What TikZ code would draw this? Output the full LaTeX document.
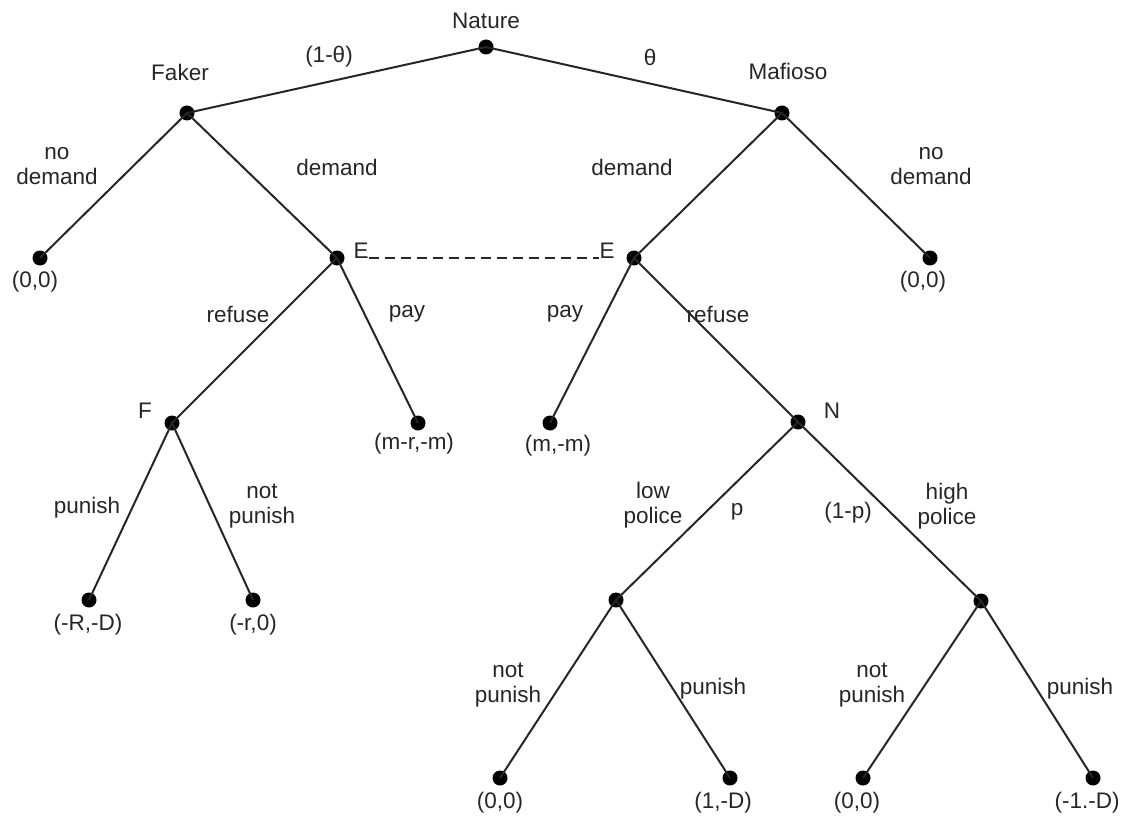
\documentclass[tikz,border=0pt]{standalone}
\usepackage{fontspec}
\setmainfont{Liberation Sans}
\begin{document}
\begin{tikzpicture}[x=1pt,y=-1pt,
  dot/.style={circle,fill=black,inner sep=0pt,minimum size=15pt},
  lbl/.style={font=\fontsize{22.5}{25}\selectfont,align=center,inner sep=0pt,text=black!85},
  edge/.style={line width=2pt,draw=black!85},
  infoset/.style={line width=1.7pt,draw=black!85,dash pattern=on 10pt off 6pt}]
\useasboundingbox (0,0) rectangle (1126,821);
% decision nodes
\node[dot] (nat) at (486,47) {};
\node[dot] (fak) at (187,113) {};
\node[dot] (maf) at (782,113) {};
\node[dot] (l1) at (40,258) {};
\node[dot] (e1) at (337,258) {};
\node[dot] (e2) at (634,258) {};
\node[dot] (l2) at (930,258) {};
\node[dot] (f) at (172,423) {};
\node[dot] (l3) at (418,423) {};
\node[dot] (l4) at (550,423) {};
\node[dot] (n) at (798,422) {};
\node[dot] (l5) at (89,600) {};
\node[dot] (l6) at (253,600) {};
\node[dot] (lp) at (616,600) {};
\node[dot] (hp) at (981,601) {};
\node[dot] (l7) at (500,778) {};
\node[dot] (l8) at (730,778) {};
\node[dot] (l9) at (863,778) {};
\node[dot] (l10) at (1093,778) {};
% edges
\draw[edge] (fak.center) -- (nat.center) -- (maf.center);
\draw[edge] (l1.center) -- (fak.center) -- (e1.center);
\draw[edge] (e2.center) -- (maf.center) -- (l2.center);
\draw[edge] (f.center) -- (e1.center) -- (l3.center);
\draw[edge] (l4.center) -- (e2.center) -- (n.center);
\draw[edge] (l5.center) -- (f.center) -- (l6.center);
\draw[edge] (lp.center) -- (n.center) -- (hp.center);
\draw[edge] (l7.center) -- (lp.center) -- (l8.center);
\draw[edge] (l9.center) -- (hp.center) -- (l10.center);
% player labels
\node[lbl] (tnat) at (486,21) {Nature};
\node[lbl] (tfak) at (180,72) {Faker};
\node[lbl] (tmaf) at (788,71) {Mafioso};
\node[lbl] (te1) at (361,251) {E};
\node[lbl] (te2) at (607,251) {E};
\node[lbl] (tf) at (145,411) {F};
\node[lbl] (tn) at (832,411) {N};
% information set
\draw[infoset] (te1.east |- e1) -- (te2.west |- e2);
% action labels
\node[lbl] (a1) at (329,57) {(1-θ)};
\node[lbl] (a2) at (650,57) {θ};
\node[lbl] (a3) at (57,166) {no\\demand};
\node[lbl] (a4) at (337,167) {demand};
\node[lbl] (a5) at (632,167) {demand};
\node[lbl] (a6) at (931,166) {no\\demand};
\node[lbl] (a7) at (238,314) {refuse};
\node[lbl] (a8) at (407,314) {pay};
\node[lbl] (a9) at (565,314) {pay};
\node[lbl] (a10) at (718,314) {refuse};
\node[lbl] (a11) at (87,508) {punish};
\node[lbl] (a12) at (262,506) {not\\punish};
\node[lbl] (a13) at (653,505) {low\\police};
\node[lbl] (a14) at (737,512) {p};
\node[lbl] (a15) at (848,513) {(1-p)};
\node[lbl] (a16) at (947,506) {high\\police};
\node[lbl] (a17) at (508,685) {not\\punish};
\node[lbl] (a18) at (713,689) {punish};
\node[lbl] (a19) at (872,685) {not\\punish};
\node[lbl] (a20) at (1080,689) {punish};
% payoffs
\node[lbl] (p1) at (35,282) {(0,0)};
\node[lbl] (p2) at (923,282) {(0,0)};
\node[lbl] (p3) at (414,444) {(m-r,-m)};
\node[lbl] (p4) at (558,446) {(m,-m)};
\node[lbl] (p5) at (88,625) {(-R,-D)};
\node[lbl] (p6) at (253,625) {(-r,0)};
\node[lbl] (p7) at (500,803) {(0,0)};
\node[lbl] (p8) at (723,803) {(1,-D)};
\node[lbl] (p9) at (857,803) {(0,0)};
\node[lbl] (p10) at (1087,803) {(-1.-D)};
\end{tikzpicture}
\end{document}
